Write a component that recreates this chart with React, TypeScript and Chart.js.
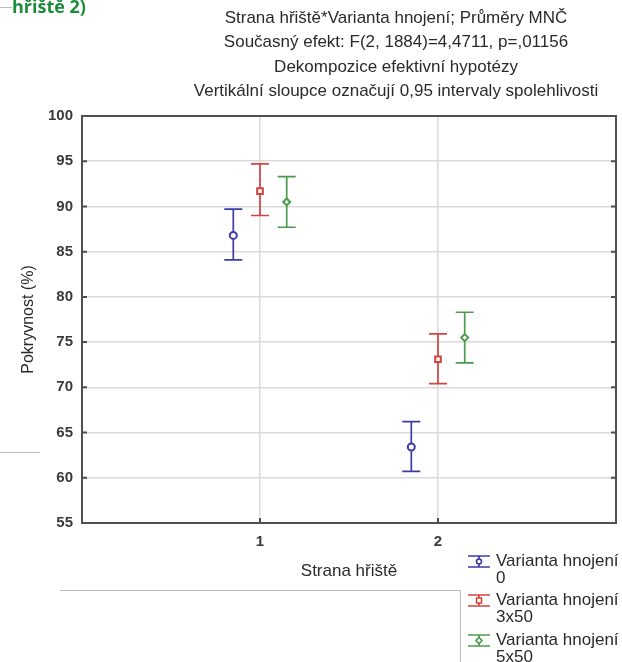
import React, { useEffect, useRef } from "react";
import { Chart, registerables } from "chart.js";

Chart.register(...registerables);

// ---------- data ----------
const CATEGORIES = [1, 2];
const X_TICK_LABELS = ["1", "2"];
const Y_TICKS = [55, 60, 65, 70, 75, 80, 85, 90, 95, 100];
const SERIES_NAMES = ["0", "3x50", "5x50"];
const LEGEND_PREFIX = "Varianta hnojení";

const MEAN_0 = [86.8, 63.4];
const LOW_0 = [84.1, 60.7];
const HIGH_0 = [89.7, 66.2];

const MEAN_3x50 = [91.7, 73.1];
const LOW_3x50 = [89.0, 70.4];
const HIGH_3x50 = [94.7, 75.9];

const MEAN_5x50 = [90.5, 75.5];
const LOW_5x50 = [87.7, 72.7];
const HIGH_5x50 = [93.3, 78.3];

const TITLE_LINES = [
  "Strana hřiště*Varianta hnojení; Průměry MNČ",
  "Současný efekt: F(2, 1884)=4,4711, p=,01156",
  "Dekompozice efektivní hypotézy",
  "Vertikální sloupce označují 0,95 intervaly spolehlivosti",
];
const X_TITLE = "Strana hřiště";
const Y_TITLE = "Pokryvnost (%)";
const HEADING_FRAGMENT = "hřiště 2)";

// ---------- styles ----------
const SERIES_COLORS = ["#3c3ca8", "#d24440", "#4c9a4c"];
const SERIES_POINT_STYLES = ["circle", "rect", "rectRot"];
const SERIES_POINT_RADIUS = [3.5, 4, 3.5];
const SERIES_DODGE = [-0.15, 0, 0.15];
const FONT = "'Liberation Sans', Arial, sans-serif";
const TEXT_COLOR = "#2a2a2a";
const TICK_COLOR = "#3a3a3a";

const MEANS = [MEAN_0, MEAN_3x50, MEAN_5x50];
const LOWS = [LOW_0, LOW_3x50, LOW_5x50];
const HIGHS = [HIGH_0, HIGH_3x50, HIGH_5x50];

const errorBarPlugin = {
  id: "errorBars",
  beforeDatasetsDraw(chart: any) {
    const ctx = chart.ctx;
    const y = chart.scales.y;
    chart.data.datasets.forEach((ds: any, di: number) => {
      const meta = chart.getDatasetMeta(di);
      ctx.save();
      ctx.strokeStyle = ds.borderColor;
      ctx.lineWidth = 1.7;
      meta.data.forEach((el: any, j: number) => {
        const d = ds.data[j];
        const x = el.x;
        const yt = y.getPixelForValue(d.yMax);
        const yb = y.getPixelForValue(d.yMin);
        ctx.beginPath();
        ctx.moveTo(x, yt);
        ctx.lineTo(x, yb);
        ctx.moveTo(x - 9, yt);
        ctx.lineTo(x + 9, yt);
        ctx.moveTo(x - 9, yb);
        ctx.lineTo(x + 9, yb);
        ctx.stroke();
      });
      ctx.restore();
    });
  },
};

const framePlugin = {
  id: "frame",
  beforeDatasetsDraw(chart: any) {
    const ctx = chart.ctx;
    const { left, right, top, bottom } = chart.chartArea;
    ctx.save();
    ctx.strokeStyle = "#505050";
    ctx.lineWidth = 2;
    ctx.strokeRect(left, top, right - left, bottom - top);
    ctx.beginPath();
    chart.scales.y.ticks.forEach((t: any) => {
      const py = chart.scales.y.getPixelForValue(t.value);
      ctx.moveTo(left, py);
      ctx.lineTo(left + 5, py);
      ctx.moveTo(right - 5, py);
      ctx.lineTo(right, py);
    });
    chart.scales.x.ticks.forEach((t: any) => {
      const px = chart.scales.x.getPixelForValue(t.value);
      ctx.moveTo(px, bottom);
      ctx.lineTo(px, bottom - 5);
    });
    ctx.stroke();
    ctx.restore();
  },
};

const decorPlugin = {
  id: "decor",
  afterDraw(chart: any) {
    const ctx = chart.ctx;
    ctx.save();
    // title block
    ctx.fillStyle = TEXT_COLOR;
    ctx.font = `17px ${FONT}`;
    ctx.textAlign = "center";
    ctx.textBaseline = "middle";
    TITLE_LINES.forEach((line, i) => {
      ctx.fillText(line, 396, 18 + i * 24.5);
    });

    // cropped heading fragment at top-left
    ctx.fillStyle = "#1d8c3a";
    ctx.font = `bold 18px 'Open Sans', 'Noto Sans', sans-serif`;
    ctx.textAlign = "left";
    ctx.textBaseline = "alphabetic";
    ctx.fillText(HEADING_FRAGMENT, 12, 13);
    ctx.strokeStyle = "#bdbdbd";
    ctx.lineWidth = 1;
    ctx.beginPath();
    ctx.moveTo(0, 7.5);
    ctx.lineTo(12, 7.5);
    ctx.moveTo(0, 452.5);
    ctx.lineTo(40, 452.5);
    ctx.moveTo(60, 590.5);
    ctx.lineTo(460.5, 590.5);
    ctx.lineTo(460.5, 662);
    ctx.stroke();

    // legend
    const rowY = [561, 600, 640];
    SERIES_NAMES.forEach((name, i) => {
      const cy = rowY[i];
      const cx = 479;
      const col = SERIES_COLORS[i];
      ctx.strokeStyle = col;
      ctx.lineWidth = 1.7;
      ctx.beginPath();
      ctx.moveTo(cx - 11, cy - 5);
      ctx.lineTo(cx + 11, cy - 5);
      ctx.moveTo(cx - 11, cy + 6);
      ctx.lineTo(cx + 11, cy + 6);
      ctx.moveTo(cx, cy - 5);
      ctx.lineTo(cx, cy + 6);
      ctx.stroke();
      ctx.fillStyle = "#fff";
      ctx.lineWidth = 1.6;
      ctx.beginPath();
      if (i === 0) {
        ctx.arc(cx, cy + 0.5, 2.5, 0, Math.PI * 2);
      } else if (i === 1) {
        ctx.rect(cx - 2.5, cy - 2, 5, 5);
      } else {
        ctx.moveTo(cx, cy - 2.5);
        ctx.lineTo(cx + 3, cy + 0.5);
        ctx.lineTo(cx, cy + 3.5);
        ctx.lineTo(cx - 3, cy + 0.5);
        ctx.closePath();
      }
      ctx.fill();
      ctx.stroke();
      ctx.fillStyle = TEXT_COLOR;
      ctx.font = `17px ${FONT}`;
      ctx.textAlign = "left";
      ctx.textBaseline = "middle";
      ctx.fillText(LEGEND_PREFIX, 496, cy);
      ctx.fillText(name, 496, cy + 17.5);
    });
    ctx.restore();
  },
};

export default function App() {
  const ref = useRef<HTMLCanvasElement | null>(null);

  useEffect(() => {
    if (!ref.current) return;
    const datasets = SERIES_NAMES.map((name, si) => ({
      label: `${LEGEND_PREFIX} ${name}`,
      data: CATEGORIES.map((c, j) => ({
        x: c + SERIES_DODGE[si],
        y: MEANS[si][j],
        yMin: LOWS[si][j],
        yMax: HIGHS[si][j],
      })),
      borderColor: SERIES_COLORS[si],
      backgroundColor: "#ffffff",
      pointStyle: SERIES_POINT_STYLES[si],
      pointRadius: SERIES_POINT_RADIUS[si],
      pointBorderWidth: 2,
      showLine: false,
    }));

    const chart = new Chart(ref.current, {
      type: "scatter",
      data: { datasets },
      options: {
        animation: false,
        responsive: false,
        devicePixelRatio: 1,
        layout: { padding: { left: 0, right: 4, top: 116, bottom: 80 } },
        plugins: {
          legend: { display: false },
          title: { display: false },
          tooltip: { enabled: false },
        },
        scales: {
          x: {
            type: "linear",
            min: 0,
            max: 3,
            afterFit: (s: any) => {
              s.height = 59;
            },
            afterBuildTicks: (s: any) => {
              s.ticks = CATEGORIES.map((v) => ({ value: v }));
            },
            ticks: {
              padding: 10,
              color: TICK_COLOR,
              font: { family: FONT, size: 15, weight: "bold" },
              callback: (v: any) => X_TICK_LABELS[CATEGORIES.indexOf(Number(v))] ?? "",
            },
            grid: { color: "#dadada", lineWidth: 1.5, drawTicks: false },
            border: { display: false },
            title: {
              display: true,
              text: X_TITLE,
              color: TEXT_COLOR,
              font: { family: FONT, size: 17 },
              padding: { top: 0, bottom: 0 },
            },
          },
          y: {
            type: "linear",
            min: 55,
            max: 100,
            afterFit: (s: any) => {
              s.width = 82;
            },
            afterBuildTicks: (s: any) => {
              s.ticks = Y_TICKS.map((v) => ({ value: v }));
            },
            ticks: {
              padding: 9,
              color: TICK_COLOR,
              font: { family: FONT, size: 15, weight: "bold" },
            },
            grid: { color: "#dadada", lineWidth: 1.5, drawTicks: false },
            border: { display: false },
            title: {
              display: true,
              text: Y_TITLE,
              color: TEXT_COLOR,
              font: { family: FONT, size: 16 },
              padding: { top: 19, bottom: 0 },
            },
          },
        },
      },
      plugins: [framePlugin, errorBarPlugin, decorPlugin],
    } as any);

    return () => chart.destroy();
  }, []);

  return (
    <div style={{ position: "fixed", left: 0, top: 0, width: 622, height: 662, background: "#fff" }}>
      <canvas ref={ref} width={622} height={662} style={{ display: "block", width: 622, height: 662 }} />
    </div>
  );
}
